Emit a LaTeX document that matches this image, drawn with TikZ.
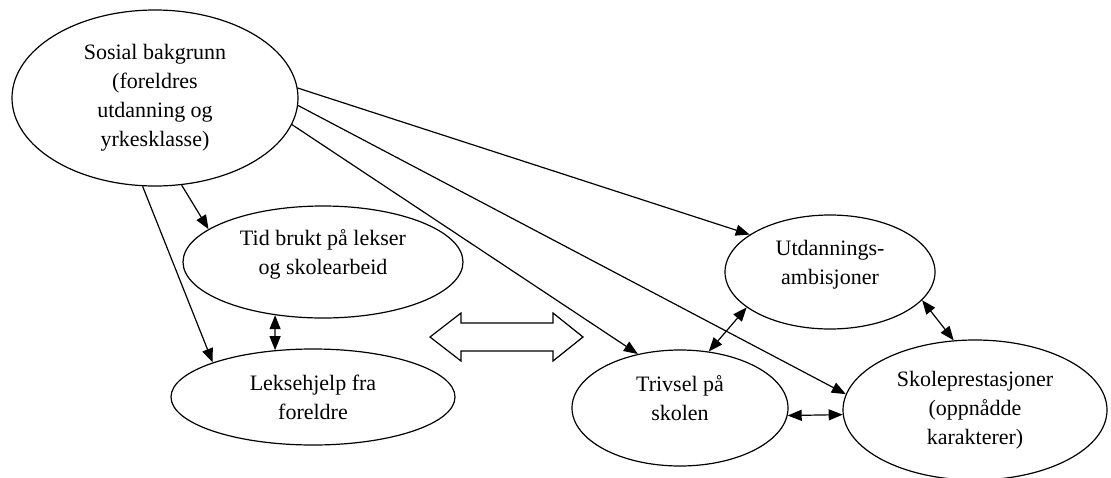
\documentclass[tikz,border=0pt]{standalone}
\usepackage{fontspec}
\setmainfont{Liberation Serif}
\usetikzlibrary{shapes.geometric,arrows.meta}
\tikzstyle{factor} = [draw,ellipse,line width=1.2pt,inner sep=0pt,align=center,font=\fontsize{22}{29}\selectfont]
\tikzstyle{raised} = [text depth=20pt]
\tikzstyle{effect} = [line width=1.2pt,-{Triangle[length=14pt,width=11pt]}]
\tikzstyle{mutual} = [line width=1.2pt,{Triangle[length=14pt,width=11pt]}-{Triangle[length=14pt,width=11pt]}]

\begin{document}
\begin{tikzpicture}[x=1pt,y=-1pt]
\useasboundingbox (0,0) rectangle (1111,477);
\node[factor,minimum width=286pt,minimum height=176pt] at (155,98) (sosial) {Sosial bakgrunn\\(foreldres\\utdanning og\\yrkesklasse)};
\node[factor,raised,minimum width=280pt,minimum height=112pt] at (323,262) (tid) {Tid brukt på lekser\\og skolearbeid};
\node[factor,minimum width=284pt,minimum height=96pt] at (313,397) (hjelp) {Leksehjelp fra\\foreldre};
\node[factor,raised,minimum width=210pt,minimum height=114pt] at (830,272) (ambisjon) {Utdannings-\\ambisjoner};
\node[factor,raised,minimum width=216pt,minimum height=116pt] at (680,408) (trivsel) {Trivsel på\\skolen};
\node[factor,minimum width=264pt,minimum height=140pt] at (975,410) (prestasjon) {Skoleprestasjoner\\(oppnådde\\karakterer)};

\draw[effect] (sosial.-73) -- (tid.164);
\draw[effect] (sosial.-98) -- (hjelp.161);
\draw[effect] (sosial.4) -- (ambisjon.155);
\draw[effect] (sosial.-11) -- (trivsel.128);
\draw[effect] (sosial.-3) -- (prestasjon.173);

\draw[mutual] (tid.-132) -- (hjelp.129);
\draw[mutual] (trivsel.63) -- (ambisjon.-157);
\draw[mutual] (ambisjon.-17) -- (prestasjon.107);
\draw[mutual] (trivsel.-4) -- (prestasjon.-178);

\draw[line width=1.2pt] (430,337) -- (461,313) -- (461,323) -- (553,323) -- (553,313) -- (583,337)
	-- (553,361) -- (553,351) -- (461,351) -- (461,361) -- cycle;
\end{tikzpicture}
\end{document}
